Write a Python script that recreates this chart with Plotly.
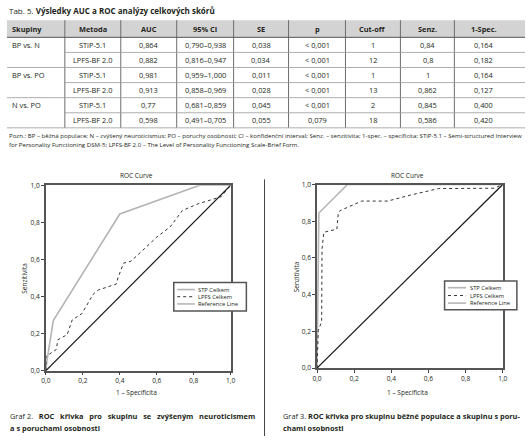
import plotly.graph_objects as go

# ---------------- DATA ----------------
table_title_prefix = "Tab. 5. "
table_title_bold = "Výsledky AUC a ROC analýzy celkových skórů"
table_columns = ["Skupiny", "Metoda", "AUC", "95% CI", "SE", "p", "Cut-off", "Senz.", "1-Spec."]
groups = ["BP vs. N", "BP vs. PO", "N vs. PO"]
methods = ["STiP-5.1", "LPFS-BF 2.0", "STiP-5.1", "LPFS-BF 2.0", "STiP-5.1", "LPFS-BF 2.0"]
auc = ["0,864", "0,882", "0,981", "0,913", "0,77", "0,598"]
ci95 = ["0,790–0,938", "0,816–0,947", "0,959–1,000", "0,858–0,969", "0,681–0,859", "0,491–0,705"]
se = ["0,038", "0,034", "0,011", "0,028", "0,045", "0,055"]
pval = ["< 0,001", "< 0,001", "< 0,001", "< 0,001", "< 0,001", "0,079"]
cutoff = ["1", "12", "1", "13", "2", "18"]
senz = ["0,84", "0,8", "1", "0,862", "0,845", "0,586"]
spec1 = ["0,164", "0,182", "0,164", "0,127", "0,400", "0,420"]

footnote_lines = [
    "Pozn.: BP – běžná populace; N – zvýšený neuroticismus; PO – poruchy osobnosti; CI – konfidenční interval; Senz. – senzitivita; 1-spec. – specificita; STiP-5.1 – Semi-structured Interview",
    "for Personality Functioning DSM-5; LPFS-BF 2.0 – The Level of Personality Functioning Scale-Brief Form.",
]

# Graf 2 (N vs. PO)
stp1_fpr = [0, 0.005, 0.04, 0.40, 0.833, 1.0]
stp1_tpr = [0, 0.05, 0.27, 0.845, 1.0, 1.0]
lpfs1_fpr = [0, 0.0, 0.02, 0.056, 0.065, 0.115, 0.142, 0.195, 0.257, 0.283, 0.381, 0.39, 0.42, 0.46, 0.60, 0.673, 0.739, 0.824, 0.948, 1.0]
lpfs1_tpr = [0, 0.075, 0.09, 0.114, 0.167, 0.194, 0.273, 0.308, 0.414, 0.435, 0.467, 0.50, 0.58, 0.59, 0.72, 0.776, 0.864, 0.90, 0.938, 1.0]

# Graf 3 (BP vs. PO)
stp2_fpr = [0, 0.01, 0.164, 1.0]
stp2_tpr = [0, 0.845, 1.0, 1.0]
lpfs2_fpr = [0, 0.007, 0.025, 0.025, 0.027, 0.037, 0.107, 0.115, 0.125, 0.24, 0.381, 0.504, 0.655, 0.954, 1.0]
lpfs2_tpr = [0, 0.207, 0.252, 0.62, 0.65, 0.74, 0.757, 0.85, 0.858, 0.91, 0.91, 0.943, 0.978, 0.98, 1.0]

ref_x = [0, 1]
ref_y = [0, 1]

chart_title = "ROC Curve"
x_title = "1 – Specificita"
y_title = "Senzitivita"
legend_names = ["STP Celkem", "LPFS Celkem", "Reference Line"]
tick_vals = [0, 0.2, 0.4, 0.6, 0.8, 1.0]
tick_text = ["0,0", "0,2", "0,4", "0,6", "0,8", "1,0"]

caption2 = ["Graf 2.", "ROC křivka pro skupinu se zvýšeným neuroticismem", "a s poruchami osobnosti"]
caption3 = ["Graf 3.", "ROC křivka pro skupinu běžné populace a skupinu s poru-", "chami osobnosti"]

# ---------------- LAYOUT HELPERS ----------------
W, H = 531, 440
FONT = "Open Sans"
TXT = "#231f20"


def X(px):
    return px / W


def Y(py):
    return 1 - py / H


def txt(x, y, text, size, xanchor="center", angle=0, pad=1):
    return dict(x=X(x), y=Y(y), text=text, xanchor=xanchor, yanchor="middle", textangle=angle,
                showarrow=False, xref="paper", yref="paper", borderpad=pad,
                font=dict(size=size, color=TXT, family=FONT))


fig = go.Figure()

STP_COL = "#b4b4b4"
LPFS_COL = "#333333"
REF_COL = "#1a1a1a"
STYLES = [dict(color=STP_COL, width=1.6), dict(color=LPFS_COL, width=1, dash="dot"), dict(color=REF_COL, width=1.2)]

series = [(stp1_fpr, stp1_tpr, lpfs1_fpr, lpfs1_tpr), (stp2_fpr, stp2_tpr, lpfs2_fpr, lpfs2_tpr)]
for i, (sx, sy, lx, ly) in enumerate(series):
    xa = "x" if i == 0 else "x2"
    ya = "y" if i == 0 else "y2"
    for (xx, yy), name, st in zip([(sx, sy), (lx, ly), (ref_x, ref_y)], legend_names, STYLES):
        fig.add_trace(go.Scatter(x=xx, y=yy, mode="lines", name=name, line=st,
                                 xaxis=xa, yaxis=ya, showlegend=False, hoverinfo="skip"))

axis_common = dict(range=[0, 1], tickvals=tick_vals, ticktext=tick_text, ticks="outside",
                   ticklen=3, tickwidth=1, tickcolor="#444", showgrid=False, zeroline=False,
                   showline=True, linecolor="#555", linewidth=1.5, mirror=True,
                   tickfont=dict(size=6.6, color=TXT, family=FONT), fixedrange=True)

p1 = dict(x0=41.7, x1=230, y0=184, y1=373.3)
p2 = dict(x0=318, x1=507.3, y0=183.3, y1=370.7)

fig.update_layout(
    xaxis=dict(domain=[X(p1["x0"]), X(p1["x1"])], anchor="y", **axis_common),
    yaxis=dict(domain=[Y(p1["y1"]), Y(p1["y0"])], anchor="x", **axis_common),
    xaxis2=dict(domain=[X(p2["x0"]), X(p2["x1"])], anchor="y2", **axis_common),
    yaxis2=dict(domain=[Y(p2["y1"]), Y(p2["y0"])], anchor="x2", **axis_common),
)

annotations = []
shapes = []

# chart titles and axis titles
for p in (p1, p2):
    cx = (p["x0"] + p["x1"]) / 2 - 2
    annotations.append(txt(cx, 174, chart_title, 6.5))
    annotations.append(txt(cx, 395.5, x_title, 6.5))
    annotations.append(txt(p["x0"] - 21.5, (p["y0"] + p["y1"]) / 2, y_title, 6.5, angle=-90))

# manual legends (box, sample lines, labels)
LEG_SAMPLE_STYLES = [dict(color=STP_COL, width=1.6), dict(color=LPFS_COL, width=1, dash="dot"),
                     dict(color="#8a8a8a", width=1)]
for (bx0, bx1, by0, by1, s0, s1, tx, rows) in [
        (172, 246, 283.3, 312.3, 175.5, 193.5, 196, [290.5, 297.8, 305.2]),
        (448, 521.7, 281.7, 311, 451.5, 470, 472.5, [288.6, 296.6, 304.3])]:
    shapes.append(dict(type="rect", xref="paper", yref="paper", x0=X(bx0), x1=X(bx1), y0=Y(by1), y1=Y(by0),
                       fillcolor="white", line=dict(color="#555", width=1.5)))
    for name, st, ry in zip(legend_names, LEG_SAMPLE_STYLES, rows):
        shapes.append(dict(type="line", xref="paper", yref="paper", x0=X(s0), x1=X(s1), y0=Y(ry), y1=Y(ry),
                           line=st))
        annotations.append(txt(tx, ry, name, 5.8, xanchor="left", pad=0))

# captions (first line of Graf 2 is justified in the original -> widened word gaps)
NB = "\u00a0"
for cap, x0, gap in ((caption2, 3, " " + NB * 2), (caption3, 281, " ")):
    line1 = cap[0] + gap + "<b>" + gap.join(cap[1].split(" ")) + "</b>"
    annotations.append(txt(x0, 420, line1, 7.4, xanchor="left"))
    annotations.append(txt(x0, 431.5, "<b>" + cap[2] + "</b>", 7.4, xanchor="left"))

# divider line between charts
shapes.append(dict(type="line", xref="paper", yref="paper", x0=X(264.5), x1=X(264.5), y0=Y(178), y1=Y(440),
                   line=dict(color="#444", width=1)))

# ---------------- TABLE ----------------
col_edges = [2, 61, 118, 175, 233, 289, 347, 403, 458, 530]
col_centers = [5, 89.5, 146.5, 204, 261, 318, 375, 431, 488]
head_top, head_bot = 15.5, 33
row_h = 15.4
n_rows = len(methods)
table_bot = head_bot + row_h * n_rows
TFS = 7.4

annotations.append(txt(2, 5.5, table_title_prefix + "<b>" + table_title_bold + "</b>", 8, xanchor="left"))

shapes.append(dict(type="rect", xref="paper", yref="paper", x0=X(col_edges[0]), x1=X(col_edges[-1]),
                   y0=Y(head_bot), y1=Y(head_top), fillcolor="#d3d3d3", line=dict(width=0), layer="below"))

for e in col_edges[1:-1]:
    shapes.append(dict(type="line", xref="paper", yref="paper", x0=X(e), x1=X(e),
                       y0=Y(head_top), y1=Y(table_bot), line=dict(color="#6d6d6d", width=1)))
shapes.append(dict(type="line", xref="paper", yref="paper", x0=X(col_edges[0]), x1=X(col_edges[-1]),
                   y0=Y(head_bot), y1=Y(head_bot), line=dict(color="#555", width=1)))
for r in range(1, n_rows + 1):
    yy = head_bot + row_h * r
    start = col_edges[0] if r % 2 == 0 else col_edges[1]
    shapes.append(dict(type="line", xref="paper", yref="paper", x0=X(start), x1=X(col_edges[-1]),
                       y0=Y(yy), y1=Y(yy), line=dict(color="#9a9a9a", width=0.8)))

for j, h in enumerate(table_columns):
    annotations.append(txt(col_centers[j], (head_top + head_bot) / 2, "<b>" + h + "</b>", TFS,
                           xanchor="left" if j == 0 else "center"))

for g, name in enumerate(groups):
    yy = head_bot + row_h * (2 * g) + row_h / 2
    annotations.append(txt(col_centers[0], yy, name, TFS, xanchor="left"))

body_cols = [methods, auc, ci95, se, pval, cutoff, senz, spec1]
for r in range(n_rows):
    yy = head_bot + row_h * r + row_h / 2
    for j, col in enumerate(body_cols, start=1):
        annotations.append(txt(col_centers[j], yy, col[r], TFS))

for k, line in enumerate(footnote_lines):
    annotations.append(txt(2, 133.5 + 8.5 * k, line, 6.1, xanchor="left"))

fig.update_layout(
    width=W, height=H, margin=dict(l=0, r=0, t=0, b=0),
    paper_bgcolor="white", plot_bgcolor="white",
    annotations=annotations, shapes=shapes,
    font=dict(family=FONT, color=TXT),
)

fig.write_html("out.html", config={"displayModeBar": False},
               post_script="document.body.style.margin='0';document.body.style.overflow='hidden';")
